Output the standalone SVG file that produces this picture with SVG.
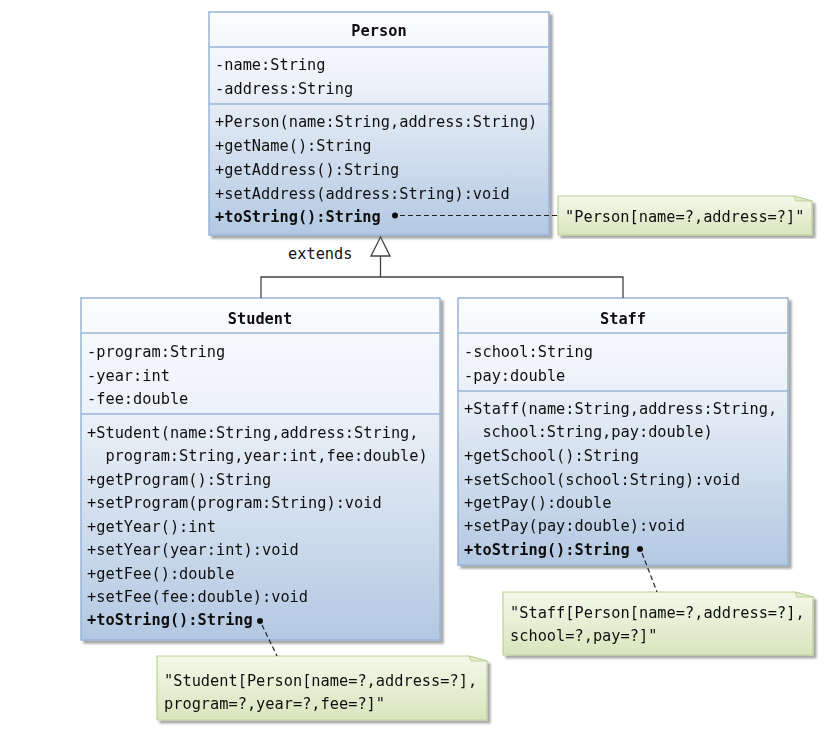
<svg xmlns="http://www.w3.org/2000/svg" width="831" height="756" viewBox="0 0 831 756">
<defs>
<linearGradient id="boxg" x1="0" y1="0" x2="0" y2="1">
<stop offset="0" stop-color="#fbfcfe"/>
<stop offset="0.3" stop-color="#eef3f9"/>
<stop offset="1" stop-color="#b3c8e2"/>
</linearGradient>
<linearGradient id="noteg" x1="0" y1="0" x2="0" y2="1">
<stop offset="0" stop-color="#f5f8ea"/>
<stop offset="1" stop-color="#d8e5bd"/>
</linearGradient>
<filter id="sh" x="-5%" y="-5%" width="115%" height="115%">
<feOffset dx="3" dy="3" in="SourceAlpha" result="o"/>
<feGaussianBlur in="o" stdDeviation="1" result="b"/>
<feComponentTransfer in="b" result="c"><feFuncA type="linear" slope="0.35"/></feComponentTransfer>
<feMerge><feMergeNode in="c"/><feMergeNode in="SourceGraphic"/></feMerge>
</filter>
</defs>
<style>
.box{fill:url(#boxg);stroke:#98b4d8;stroke-width:1.5}
.div{stroke:#98b4d8;stroke-width:1.5}
.note{fill:url(#noteg);stroke:#bcd197;stroke-width:1.2}
.fold{fill:#e4edcf;stroke:#bcd197;stroke-width:1}
text{font-family:"DejaVu Sans Mono","Liberation Mono",monospace;font-size:15.3px;fill:#111}
.t{font-weight:bold;text-anchor:middle}
.b{font-weight:bold}
.conn{stroke:#444;stroke-width:1.3;fill:none}
.dash{stroke:#222;stroke-width:1.2;stroke-dasharray:5,3;fill:none}
.dot{fill:#111}
</style>
<rect width="831" height="756" fill="#fff"/>

<g id="person" filter="url(#sh)">
<rect class="box" x="209" y="12" width="340" height="223"/>
<line class="div" x1="209" y1="47" x2="549" y2="47"/>
<line class="div" x1="209" y1="104" x2="549" y2="104"/>
<text class="t" x="379" y="36">Person</text>
<text x="215" y="70">-name:String</text>
<text x="215" y="94">-address:String</text>
<text x="215" y="127">+Person(name:String,address:String)</text>
<text x="215" y="151">+getName():String</text>
<text x="215" y="175">+getAddress():String</text>
<text x="215" y="199">+setAddress(address:String):void</text>
<text class="b" x="215" y="222">+toString():String</text>
<circle class="dot" cx="395" cy="215.5" r="3"/>
</g>

<g id="student" filter="url(#sh)">
<rect class="box" x="81" y="298" width="359" height="342"/>
<line class="div" x1="81" y1="333" x2="440" y2="333"/>
<line class="div" x1="81" y1="414" x2="440" y2="414"/>
<text class="t" x="260" y="324">Student</text>
<text x="87" y="357">-program:String</text>
<text x="87" y="381">-year:int</text>
<text x="87" y="404">-fee:double</text>
<text x="87" y="438">+Student(name:String,address:String,</text>
<text x="105.4" y="461">program:String,year:int,fee:double)</text>
<text x="87" y="485">+getProgram():String</text>
<text x="87" y="508">+setProgram(program:String):void</text>
<text x="87" y="532">+getYear():int</text>
<text x="87" y="555">+setYear(year:int):void</text>
<text x="87" y="579">+getFee():double</text>
<text x="87" y="602">+setFee(fee:double):void</text>
<text class="b" x="87" y="625">+toString():String</text>
<circle class="dot" cx="260" cy="621" r="3"/>
</g>

<g id="staff" filter="url(#sh)">
<rect class="box" x="458" y="298" width="330" height="267"/>
<line class="div" x1="458" y1="333" x2="788" y2="333"/>
<line class="div" x1="458" y1="391" x2="788" y2="391"/>
<text class="t" x="623" y="324">Staff</text>
<text x="464" y="357">-school:String</text>
<text x="464" y="381">-pay:double</text>
<text x="464" y="414">+Staff(name:String,address:String,</text>
<text x="482.4" y="437">school:String,pay:double)</text>
<text x="464" y="461">+getSchool():String</text>
<text x="464" y="485">+setSchool(school:String):void</text>
<text x="464" y="508">+getPay():double</text>
<text x="464" y="531">+setPay(pay:double):void</text>
<text class="b" x="464" y="555">+toString():String</text>
<circle class="dot" cx="640" cy="549" r="3"/>
</g>

<g id="note-person" filter="url(#sh)">
<path class="note" d="M558,196 H794 L812,201 V235 H558 Z"/>
<path class="fold" d="M794,196 L812,201 L796,201 Z"/>
<text x="565" y="222">"Person[name=?,address=?]"</text>
</g>

<g id="note-staff" filter="url(#sh)">
<path class="note" d="M503,592 H795 L813,597 V655 H503 Z"/>
<path class="fold" d="M795,592 L813,597 L797,597 Z"/>
<text x="510" y="618">"Staff[Person[name=?,address=?],</text>
<text x="510" y="641">school=?,pay=?]"</text>
</g>

<g id="note-student" filter="url(#sh)">
<path class="note" d="M157,656 H469 L487,661 V720 H157 Z"/>
<path class="fold" d="M469,656 L487,661 L471,661 Z"/>
<text x="164" y="686">"Student[Person[name=?,address=?],</text>
<text x="164" y="709">program=?,year=?,fee=?]"</text>
</g>

<g id="connectors">
<polyline class="conn" points="261,298 261,277 623,277 623,298"/>
<line class="conn" x1="380.5" y1="277" x2="380.5" y2="256"/>
<polygon points="380.5,237 371,256 390,256" fill="#fff" stroke="#444" stroke-width="1.3"/>
<text x="288" y="259">extends</text>
<line class="dash" x1="400" y1="215.5" x2="558" y2="215.5"/>
<line class="dash" x1="262" y1="625" x2="277" y2="656"/>
<line class="dash" x1="642" y1="553" x2="657" y2="592"/>
</g>
</svg>
